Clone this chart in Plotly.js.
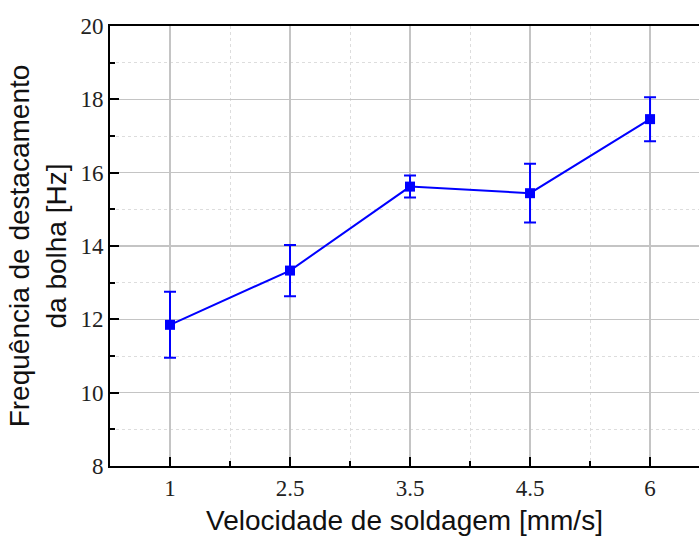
<!DOCTYPE html>
<html>
<head>
<meta charset="utf-8">
<script src="https://cdn.plot.ly/plotly-3.0.1.min.js"></script>
<style>html,body{margin:0;padding:0;background:#fff;}#chart{width:699px;height:539px;}</style>
</head>
<body>
<div id="chart"></div>
<script>
// Welding speed categories (mm/s)
const speeds = ['1', '2.5', '3.5', '4.5', '6'];
// Bubble detachment frequency (Hz) and its standard deviation
const frequency = [11.85, 13.33, 15.62, 15.44, 17.46];
const deviation = [0.9, 0.7, 0.3, 0.8, 0.6];

const idx = speeds.map((_, i) => i);

const trace = {
  x: idx,
  y: frequency,
  type: 'scatter',
  mode: 'lines+markers',
  line: {color: '#0000ff', width: 2},
  marker: {symbol: 'square', size: 10, color: '#0000ff'},
  error_y: {type: 'data', array: deviation, visible: true, color: '#0000ff', thickness: 2, width: 6},
  showlegend: false,
  cliponaxis: false
};

const layout = {
  width: 699,
  height: 539,
  margin: {l: 110, r: 0, t: 26, b: 73},
  paper_bgcolor: '#ffffff',
  plot_bgcolor: '#ffffff',
  xaxis: {
    range: [-0.5, 4.408],
    tickmode: 'array',
    tickvals: idx,
    ticktext: speeds,
    ticks: 'inside',
    ticklen: 9,
    tickwidth: 2,
    tickcolor: '#000',
    showline: true,
    linecolor: '#000',
    linewidth: 2,
    mirror: true,
    showgrid: true,
    gridcolor: '#c4c4c4',
    gridwidth: 1.5,
    zeroline: false,
    tickfont: {family: 'Liberation Serif, Times New Roman, serif', size: 23, color: '#222'},
    minor: {dtick: 0.5, tick0: 0, ticks: 'inside', ticklen: 5, tickwidth: 2, tickcolor: '#000', showgrid: true, gridcolor: '#dddddd', griddash: 'dot', gridwidth: 1},
    title: {text: 'Velocidade de soldagem [mm/s]', font: {family: 'Liberation Sans, Arial, sans-serif', size: 28, color: '#111'}, standoff: 11}
  },
  yaxis: {
    range: [8, 20],
    dtick: 2,
    tick0: 8,
    ticks: 'inside',
    ticklen: 9,
    tickwidth: 2,
    tickcolor: '#000',
    showline: true,
    linecolor: '#000',
    linewidth: 2,
    mirror: false,
    showgrid: true,
    gridcolor: '#c4c4c4',
    gridwidth: 1.5,
    zeroline: false,
    tickfont: {family: 'Liberation Serif, Times New Roman, serif', size: 23, color: '#222'},
    minor: {dtick: 1, tick0: 8, ticks: 'inside', ticklen: 5, tickwidth: 2, tickcolor: '#000', showgrid: true, gridcolor: '#dddddd', griddash: 'dot', gridwidth: 1},
    title: {text: 'Frequência de destacamento<br>da bolha [Hz]', font: {family: 'Liberation Sans, Arial, sans-serif', size: 28, color: '#111'}, standoff: 6}
  }
};

Plotly.newPlot('chart', [trace], layout, {displayModeBar: false, staticPlot: true});
</script>
</body>
</html>
